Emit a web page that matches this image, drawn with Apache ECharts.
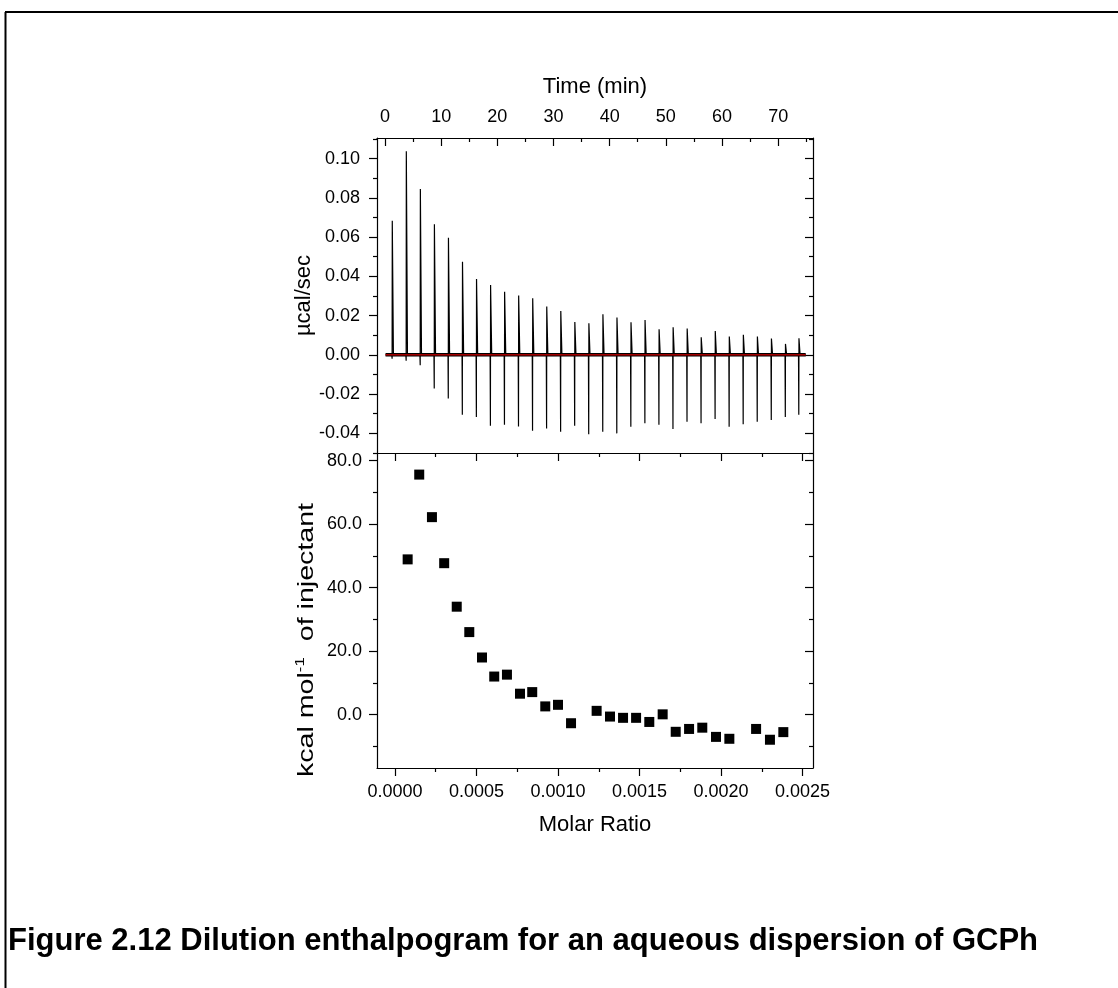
<!DOCTYPE html>
<html><head><meta charset="utf-8">
<script src="https://cdn.jsdelivr.net/npm/echarts@6/dist/echarts.min.js"></script>
<style>html,body{margin:0;padding:0;background:#fff}#c{width:1118px;height:988px}</style>
</head><body><div id="c"></div>
<script>
// ---------- data ----------
// Thermogram (top panel): injection times (min), peak maxima and minima (µcal/sec)
const injTimes = [1.3, 3.8, 6.3, 8.8, 11.3, 13.8, 16.3, 18.8, 21.3, 23.8, 26.3, 28.8, 31.3, 33.8, 36.3,
                  38.8, 41.3, 43.8, 46.3, 48.8, 51.3, 53.8, 56.3, 58.8, 61.3, 63.8, 66.3, 68.8, 71.3, 73.7];
const peakMax = [0.0683, 0.1038, 0.0845, 0.0665, 0.0597, 0.0475, 0.0387, 0.0356, 0.0322, 0.0302, 0.0289, 0.0246,
                 0.0224, 0.0168, 0.0161, 0.0207, 0.0190, 0.0166, 0.0178, 0.0131, 0.0141, 0.0134, 0.0090, 0.0122,
                 0.0093, 0.0102, 0.0093, 0.0083, 0.0056, 0.0085];
const peakMin = [-0.0020, -0.0030, -0.0053, -0.0171, -0.0222, -0.0305, -0.0316, -0.0361, -0.0356, -0.0365, -0.0387,
                 -0.0375, -0.0392, -0.0361, -0.0404, -0.0392, -0.0400, -0.0366, -0.0348, -0.0356, -0.0378, -0.0341,
                 -0.0349, -0.0327, -0.0366, -0.0353, -0.0341, -0.0332, -0.0316, -0.0305];
const traceStart = 0.1, traceEnd = 74.9;
// Integrated heats (bottom panel)
const molarRatio = [0.000078, 0.000149, 0.000227, 0.000302, 0.000379, 0.000456, 0.000534, 0.000609, 0.000687,
                    0.000767, 0.000842, 0.000922, 0.001000, 0.001080, 0.001237, 0.001319, 0.001399, 0.001479,
                    0.001560, 0.001642, 0.001722, 0.001804, 0.001885, 0.001969, 0.002051, 0.002215, 0.002300, 0.002382];
const heat = [48.9, 75.6, 62.2, 47.7, 34.0, 26.0, 18.0, 12.0, 12.6, 6.6, 7.1, 2.6, 3.1, -2.7, 1.2, -0.6, -1.0, -1.0,
              -2.3, 0.1, -5.4, -4.5, -4.1, -7.0, -7.6, -4.5, -7.9, -5.5];
// Tick values
const timeTicks = [0, 10, 20, 30, 40, 50, 60, 70];
const timeMinor = [5, 15, 25, 35, 45, 55, 65, 75];
const powerTicks = [-0.04, -0.02, 0, 0.02, 0.04, 0.06, 0.08, 0.10];
const powerMinor = [-0.05, -0.03, -0.01, 0.01, 0.03, 0.05, 0.07, 0.09, 0.11];
const ratioTicks = [0, 0.0005, 0.0010, 0.0015, 0.0020, 0.0025];
const ratioMinor = [0.00025, 0.00075, 0.00125, 0.00175, 0.00225];
const heatTicks = [0, 20, 40, 60, 80];
const heatMinor = [-10, 10, 30, 50, 70];

// ---------- build series from the arrays ----------
const trace = [[traceStart, 0]];
injTimes.forEach((t, i) => {
  trace.push([t - 0.08, 0], [t - 0.03, peakMin[i]], [t, peakMax[i]], [t + 0.2, 0]);
});
trace.push([traceEnd, 0]);
const points = molarRatio.map((x, i) => [x, heat[i]]);

const F = '"Liberation Sans", Arial, sans-serif';
const LC = {color: '#000', width: 1.2};
function ax(o) {
  const a = {
    type: 'value', splitLine: {show: false},
    axisLine: {show: !!o.line, onZero: false, lineStyle: LC},
    axisTick: {show: !!o.ticks, inside: !!o.inside, length: o.len || 8, customValues: o.ticks, lineStyle: LC},
    axisLabel: {show: !!o.labels, customValues: o.labels, margin: o.margin || 14, fontSize: 18, color: '#000',
                fontFamily: F, formatter: o.fmt},
    gridIndex: o.grid, position: o.pos, min: o.min, max: o.max
  };
  if (o.name) {
    a.name = o.name; a.nameLocation = 'middle'; a.nameGap = o.gap;
    a.nameTextStyle = Object.assign({fontSize: 22, fontFamily: F, color: '#000'}, o.nts || {});
  }
  return a;
}
const tR = [-1.42, 76.2], pR = [-0.05, 0.1105], rR = [-0.00011, 0.002564], hR = [-16.8, 82.4];

const option = {
  animation: false,
  backgroundColor: '#fff',
  title: {text: 'Figure 2.12 Dilution enthalpogram for an aqueous dispersion of GCPh', left: 8, top: 926, padding: 0,
          textStyle: {fontSize: 31, fontWeight: 'bold', fontFamily: F, color: '#000'}},
  graphic: [
    {type: 'line', shape: {x1: 5, y1: 12, x2: 1118, y2: 12}, style: {stroke: '#000', lineWidth: 2}},
    {type: 'line', shape: {x1: 5.5, y1: 12, x2: 5.5, y2: 988}, style: {stroke: '#000', lineWidth: 2}},
    {type: 'text', x: 307, y: 640, rotation: Math.PI / 2, scaleX: 1.3,
     style: {text: '{a|kcal mol}{s|-1}{a|  of injectant}', align: 'center', verticalAlign: 'middle',
             rich: {a: {fontSize: 22, fontFamily: F, fill: '#000', lineHeight: 26},
                    s: {fontSize: 13, fontFamily: F, fill: '#000', verticalAlign: 'top', lineHeight: 26}}}}
  ],
  grid: [
    {left: 377, top: 138, width: 436, height: 315},
    {left: 377, top: 453, width: 436, height: 315}
  ],
  xAxis: [
    ax({grid: 0, pos: 'top', min: tR[0], max: tR[1], line: true, ticks: timeTicks, inside: true, len: 8,
        labels: timeTicks, margin: 12, fmt: v => String(v), name: 'Time (min)', gap: 40}),
    ax({grid: 0, pos: 'top', min: tR[0], max: tR[1], ticks: timeMinor, inside: true, len: 4}),
    ax({grid: 1, pos: 'bottom', min: rR[0], max: rR[1], line: true, ticks: ratioTicks, len: 8,
        labels: ratioTicks, margin: 15, fmt: v => v.toFixed(4), name: 'Molar Ratio', gap: 46}),
    ax({grid: 1, pos: 'bottom', min: rR[0], max: rR[1], ticks: ratioMinor, len: 4}),
    ax({grid: 1, pos: 'top', min: rR[0], max: rR[1], line: true, ticks: ratioTicks, inside: true, len: 8}),
    ax({grid: 1, pos: 'top', min: rR[0], max: rR[1], ticks: ratioMinor, inside: true, len: 4})
  ],
  yAxis: [
    ax({grid: 0, pos: 'left', min: pR[0], max: pR[1], line: true, ticks: powerTicks, len: 8,
        labels: powerTicks, margin: 17, fmt: v => v.toFixed(2), name: 'µcal/sec', gap: 62}),
    ax({grid: 0, pos: 'left', min: pR[0], max: pR[1], ticks: powerMinor, len: 4}),
    ax({grid: 0, pos: 'right', min: pR[0], max: pR[1], line: true, ticks: powerTicks, inside: true, len: 8}),
    ax({grid: 0, pos: 'right', min: pR[0], max: pR[1], ticks: powerMinor, inside: true, len: 4}),
    ax({grid: 1, pos: 'left', min: hR[0], max: hR[1], line: true, ticks: heatTicks, len: 8,
        labels: heatTicks, margin: 15, fmt: v => v.toFixed(1)}),
    ax({grid: 1, pos: 'left', min: hR[0], max: hR[1], ticks: heatMinor, len: 4}),
    ax({grid: 1, pos: 'right', min: hR[0], max: hR[1], line: true, ticks: heatTicks, inside: true, len: 8}),
    ax({grid: 1, pos: 'right', min: hR[0], max: hR[1], ticks: heatMinor, inside: true, len: 4})
  ],
  series: [
    {type: 'line', xAxisIndex: 0, yAxisIndex: 0, data: [[traceStart, 0], [traceEnd, 0]], showSymbol: false,
     symbol: 'none', lineStyle: {color: '#000', width: 3.5}, z: 1},
    {type: 'line', xAxisIndex: 0, yAxisIndex: 0, data: trace, showSymbol: false, symbol: 'none',
     lineStyle: {color: '#000', width: 1.2}, z: 2},
    {type: 'line', xAxisIndex: 0, yAxisIndex: 0, data: [[traceStart, 0], [traceEnd, 0]], showSymbol: false,
     symbol: 'none', lineStyle: {color: '#ff0000', width: 1}, z: 3},
    {type: 'scatter', xAxisIndex: 2, yAxisIndex: 4, data: points, symbol: 'rect', symbolSize: 10,
     itemStyle: {color: '#000', opacity: 1}}
  ]
};
echarts.init(document.getElementById('c'), null, {renderer: 'canvas'}).setOption(option);
</script></body></html>
